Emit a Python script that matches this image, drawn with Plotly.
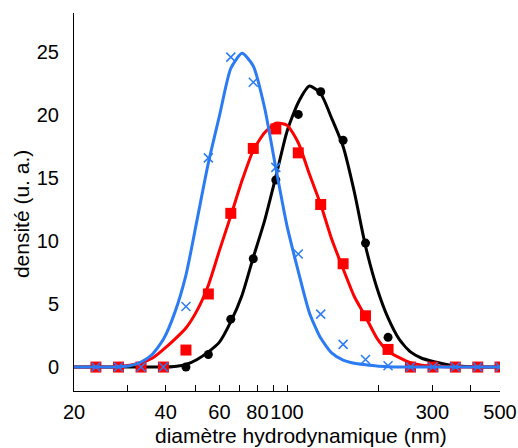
import plotly.graph_objects as go

# ---- data ----
curve_x = [20, 21.7, 23.6, 25.7, 28.0, 30.5, 33.2, 36.1, 39.3, 42.8, 46.6, 50.7, 55.2, 60.1,
           65.4, 71.2, 77.5, 84.4, 91.9, 100.0, 108.9, 118.5, 129.0, 140.4, 152.8, 166.3,
           181.0, 197.2, 214.6, 233.6, 254.2, 276.7, 301.2, 327.8, 356.8, 388.4, 422.7, 460.5, 500]
blue_curve = [0, 0, 0, 0, 0.02, 0.1, 0.4, 1.0, 2.2, 4.3, 7.3, 11.7, 16.2, 20.0, 23.7, 24.9,
              23.9, 20.6, 15.8, 11.2, 7.6, 4.3, 2.3, 1.1, 0.55, 0.3, 0.18, 0.08, 0.03,
              0, 0, 0, 0, 0, 0, 0, 0, 0, 0]
red_curve = [0, 0, 0, 0, 0.05, 0.15, 0.35, 0.7, 1.4, 2.2, 3.1, 4.5, 6.5, 9.3, 12.0, 14.8,
             17.2, 18.6, 19.35, 19.2, 17.8, 15.3, 12.9, 10.1, 7.8, 5.6, 4.0, 2.3, 1.25, 0.75,
             0.35, 0.15, 0.08, 0.03, 0, 0, 0, 0, 0]
black_curve = [0, 0, 0, 0, 0, 0, 0, 0, 0, 0.05, 0.2, 0.6, 1.2, 2.0, 3.6, 5.7, 8.7, 11.6,
               15.1, 18.7, 21.0, 22.3, 21.7, 19.7, 17.5, 13.9, 9.6, 6.3, 3.9, 2.2, 1.2, 0.7,
               0.45, 0.25, 0.1, 0.04, 0, 0, 0]

marker_x = [23.6, 28.0, 33.2, 39.3, 46.6, 55.2, 65.4, 77.5, 91.9, 108.9, 129.0, 152.8,
            181.0, 214.6, 254.2, 301.2, 356.8, 422.7, 500]
black_pts = [0, 0, 0, 0, 0, 1.0, 3.8, 8.6, 14.85, 20.05, 21.85, 18.0, 9.84, 2.36, 0, 0, 0, 0, 0]
red_pts = [0, 0, 0, 0, 1.35, 5.8, 12.2, 17.35, 18.9, 17.0, 12.9, 8.2, 4.07, 1.4, 0, 0, 0, 0, 0]
blue_pts = [0, 0, 0, 0, 4.8, 16.6, 24.6, 22.6, 15.85, 8.97, 4.2, 1.8, 0.6, 0.1, 0, 0, 0, 0, 0]

tick_vals = [20, 30, 40, 50, 60, 70, 80, 90, 100, 200, 300, 400, 500]
tick_text = ["20", "", "40", "", "60", "", "80", "", "100", "", "300", "", "500"]
y_ticks = [0, 5, 10, 15, 20, 25]

BLUE = "#2b7bf4"
RED = "#ff0000"
BLACK = "#000000"

fig = go.Figure()
for cx, cy, mx, my, col, sym, msize in [
    (curve_x, black_curve, marker_x, black_pts, BLACK, "circle", 9),
    (curve_x, red_curve, marker_x, red_pts, RED, "square", 11),
    (curve_x, blue_curve, marker_x, blue_pts, BLUE, "x-thin", 9),
]:
    fig.add_trace(go.Scatter(x=cx, y=cy, mode="lines", line=dict(color=col, width=3, shape="spline", smoothing=0.6),
                             showlegend=False, hoverinfo="skip"))
    if sym == "x-thin":
        mk = dict(symbol=sym, size=msize, line=dict(color=col, width=1.5), color=col)
    else:
        mk = dict(symbol=sym, size=msize, color=col, line=dict(width=0))
    fig.add_trace(go.Scatter(x=mx, y=my, mode="markers", marker=mk, showlegend=False))

FONT = "Liberation Sans, Arial, Helvetica, sans-serif"
fig.update_layout(
    width=518, height=448,
    margin=dict(l=74, r=18, t=13, b=57, autoexpand=False),
    paper_bgcolor="white", plot_bgcolor="white",
    font=dict(family=FONT, size=20, color="black"),
    xaxis=dict(type="log", range=[1.30103, 2.69897], tickvals=tick_vals, ticktext=tick_text,
               ticks="inside", ticklen=6, tickcolor="black", showline=True, linecolor="black",
               linewidth=1, showgrid=False, zeroline=False, ticklabelstandoff=3,
               tickangle=0, automargin=False, tickfont=dict(size=20)),
    yaxis=dict(range=[-1.9, 28.1], tickvals=y_ticks, ticks="", showline=True, linecolor="black",
               linewidth=1, showgrid=False, zeroline=False, ticklabelstandoff=10,
               automargin=False, tickfont=dict(size=20)),
    annotations=[
        dict(text="diamètre hydrodynamique (nm)", xref="paper", yref="paper", x=0.533, y=-0.119,
             xanchor="center", yanchor="middle", showarrow=False, font=dict(size=21)),
        dict(text="densité (u. a.)", xref="paper", yref="paper", x=-0.1244, y=0.468,
             xanchor="center", yanchor="middle", textangle=-90, showarrow=False, font=dict(size=21)),
    ],
)

fig.write_html("out.html", config={"displayModeBar": False},
               post_script="document.body.style.margin='0';document.body.style.overflow='hidden';")
